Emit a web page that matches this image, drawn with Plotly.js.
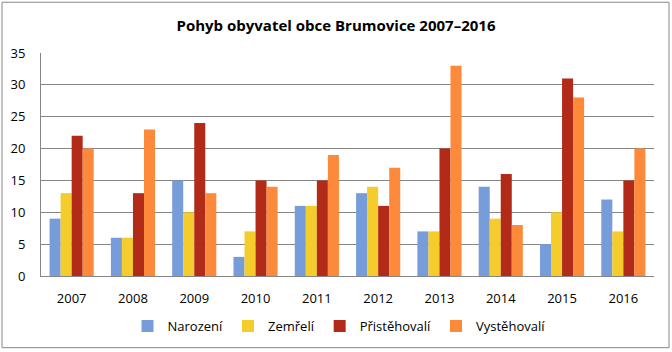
<!DOCTYPE html>
<html><head><meta charset="utf-8">
<script src="https://cdn.plot.ly/plotly-3.0.1.min.js"></script>
<style>html,body{margin:0;padding:0;background:#fff}#c{width:672px;height:352px}</style>
</head><body><div id="c"></div>
<script>
const years = ['2007','2008','2009','2010','2011','2012','2013','2014','2015','2016'];
const narozeni = [9,6,15,3,11,13,7,14,5,12];
const zemreli = [13,6,10,7,11,14,7,9,10,7];
const pristehovali = [22,13,24,15,15,11,20,16,31,15];
const vystehovali = [20,23,13,14,19,17,33,8,28,20];
const names = ['Narození','Zemřelí','Přistěhovalí','Vystěhovalí'];
const colors = ['#779CDA','#F4CC2B','#B22B18','#FD8A3A'];
const series = [narozeni, zemreli, pristehovali, vystehovali];
const font = 'Open Sans, Noto Sans, sans-serif';
const data = series.map((s,i)=>({type:'bar', x:years, y:s, name:names[i], marker:{color:colors[i]}}));
const layout = {
  width:672, height:352,
  margin:{l:41, r:18, t:53, b:75},
  paper_bgcolor:'#fff', plot_bgcolor:'#fff',
  font:{family:font, size:13, color:'#000'},
  title:{text:'<b>Pohyb obyvatel obce Brumovice 2007–2016</b>', font:{family:font, size:15, color:'#000'}, x:0.5, xanchor:'center', y:1-26/352, yanchor:'middle', yref:'container'},
  barmode:'group', bargap:0.28, bargroupgap:0,
  xaxis:{type:'category', showline:true, linecolor:'#868686', ticks:'', tickfont:{size:13}, showgrid:false, ticklabelstandoff:10},
  yaxis:{range:[0,35], dtick:5, showgrid:true, gridcolor:'#868686', showline:true, linecolor:'#868686', zeroline:false, ticks:'', tickfont:{size:13}, ticklabelstandoff:12},
  legend:{orientation:'h', x:(339-41)/613, xanchor:'center', y:(277-326)/224, yanchor:'middle', font:{size:13}, itemwidth:30, traceorder:'normal'},
  shapes:[{type:'rect', xref:'paper', yref:'paper', x0:(2-41)/613, x1:(669-41)/613, y0:(277-349)/224, y1:(277-2)/224, line:{color:'#878787', width:1}}]
};
Plotly.newPlot('c', data, layout, {displayModeBar:false, staticPlot:true});
</script></body></html>
